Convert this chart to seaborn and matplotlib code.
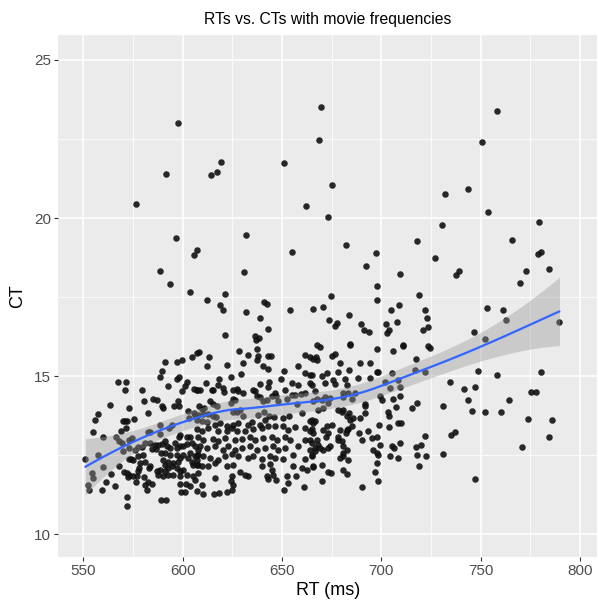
import numpy as np
import pandas as pd
import matplotlib
matplotlib.use("Agg")
import matplotlib.pyplot as plt
import seaborn as sns

# RT (ms) and CT values
rt = [
    669.4, 597.5, 668.8, 619.4, 617.4, 614.2, 591.8, 651.0, 675.0, 576.5,
    662.2, 673.3, 596.5, 632.0, 607.0, 605.9, 655.0, 588.7, 631.0, 593.8,
    603.5, 621.5, 674.5, 612.2, 618.9, 620.5, 640.8, 642.4, 631.7, 654.0,
    665.8, 670.5, 638.7, 673.8, 677.8, 676.7, 642.8, 621.5, 636.4, 638.4,
    758.1, 750.5, 732.1, 743.8, 753.6, 730.6, 779.1, 682.3, 717.8, 765.8,
    697.5, 727.1, 692.3, 709.6, 739.3, 737.3, 780.1, 778.6, 784.6, 773.0,
    769.8, 698.0, 698.0, 718.8, 709.1, 753.1, 761.1, 722.0, 704.9,
    683.8, 689.8, 691.0, 694.0, 702.1, 708.1, 703.7, 702.7, 722.9, 723.4,
    720.8, 684.3, 711.1,
    762.6, 746.5, 751.9, 724.5, 789.6, 722.0, 748.8, 758.1, 780.1, 734.6,
    741.8, 747.3, 743.8, 764.3, 775.4, 778.0, 731.2, 745.8, 752.0, 760.3,
    774.0, 786.1, 784.6, 734.8, 736.8, 771.0, 731.2, 722.7, 747.3, 722.0,
    # 550-610
    607.4, 604.8, 597.0, 599.5, 591.3, 589.6, 588.7, 598.0, 597.3, 592.4,
    602.0, 601.2, 599.5, 605.7, 607.4, 567.3, 571.5, 570.9, 579.5, 586.9,
    585.2, 580.7, 597.8, 595.5, 598.1, 589.6, 589.9, 602.5, 582.7, 603.2,
    605.9, 607.0, 563.2, 573.1, 557.5, 556.0, 575.5, 570.9, 570.1, 571.8,
    571.5, 569.0, 554.7, 588.4, 594.4, 593.1, 582.7, 583.5, 588.6, 598.6,
    598.3, 602.0, 603.7, 560.0, 566.3, 574.3, 573.1, 567.9, 569.3, 580.9,
    579.5, 576.0, 577.7, 573.1, 569.8, 583.5, 584.4, 586.6, 586.1, 587.7,
    589.4, 591.1, 591.9, 593.6, 596.1, 597.0, 598.6, 600.3, 602.0, 604.5,
    606.2, 607.9, 589.1, 591.1, 593.6, 597.0, 600.3, 603.7, 606.2, 607.9,
    602.8, 604.5, 607.0, 605.3, 607.9, 598.6, 597.8, 595.3, 592.8, 591.1,
    589.9, 551.0, 557.2, 559.7, 554.2, 554.7, 552.5, 553.0, 559.2, 561.4,
    563.9, 567.8, 572.8, 574.0, 575.2, 577.7, 579.8, 581.0, 583.5, 583.2,
    578.5, 578.2, 577.7, 570.5, 571.8, 573.1, 572.3, 575.2, 576.5, 576.8,
    580.7, 581.0, 582.4, 584.4, 581.9, 586.9, 588.6, 591.1, 592.8, 594.4,
    597.0, 598.6, 600.3, 587.7, 590.2, 592.8, 595.3, 598.6, 602.0, 605.3,
    607.9, 598.6, 601.5, 603.7, 606.2, 599.0, 601.2, 589.1, 591.4, 571.8,
    572.0, 565.9,
    # 606-666
    636.9, 608.2, 613.2, 612.4, 622.5, 628.5, 633.0, 637.2, 638.1, 637.2,
    643.1, 644.5, 630.2, 640.6, 642.8, 629.2, 624.3, 651.2, 661.6, 665.8,
    664.1, 657.9, 661.6, 664.1, 649.5, 611.7, 618.4, 617.6, 607.0, 608.7,
    614.6, 615.4, 620.5, 621.0, 625.2, 627.2, 628.0, 630.5, 626.3, 625.5,
    635.2, 636.4, 638.9, 643.4, 642.8, 646.5, 644.8, 647.0, 638.9, 637.2,
    640.6, 642.3, 651.5, 654.9, 658.2, 656.5, 654.9, 659.6, 661.6, 665.3,
    647.8, 652.3, 613.7, 615.4, 617.1, 624.3, 627.2, 625.5, 628.9, 608.2,
    609.6, 610.9, 606.2, 607.9, 610.4, 612.9, 615.4, 616.8, 630.5, 638.1,
    641.1, 643.4, 646.1, 650.7, 653.5, 657.4, 659.9, 664.1, 665.8, 609.6,
    612.1, 616.3, 618.8, 622.1, 625.5, 628.0, 633.0, 634.7, 638.9, 641.4,
    643.1, 646.5, 650.7, 652.8, 656.5, 661.6, 664.9, 607.0, 609.9, 612.9,
    617.9, 622.1, 624.7, 627.2, 631.4, 635.6, 639.8, 607.9, 610.4, 615.4,
    617.9, 621.3, 626.3, 629.7, 633.9, 636.4, 640.6, 644.8, 647.3, 651.5,
    654.0, 658.2, 661.6, 664.9, 664.1, 608.7, 612.1, 616.3, 620.5, 623.0,
    626.3, 629.7, 633.9, 637.2, 641.4, 645.6, 648.1, 651.5, 607.0, 610.4,
    613.7, 617.9, 621.3, 624.7, 628.0, 633.0, 635.6, 639.8, 643.9, 646.5,
    650.7, 655.7, 661.6, 664.9, 607.0, 609.6, 612.9, 616.3, 622.1, 625.5,
    628.9, 631.4, 633.0, 639.8, 643.9, 644.8, 645.6, 642.3, 655.7, 659.9,
    662.4, 665.8, 624.7, 624.3, 625.5, 624.7, 616.3, 609.6, 607.0, 610.4,
    615.8, 618.3, 622.1, 643.1, 646.8, 652.3, 657.0, 653.2, 651.2, 661.2,
    # 664-724
    667.5, 669.1, 684.2, 698.0, 706.0, 711.1, 667.1, 667.5, 675.0, 676.7,
    679.2, 689.3, 694.3, 717.5, 723.7, 683.9, 678.0, 697.7, 698.5, 664.9,
    670.0, 672.5, 675.8, 671.7, 676.7, 681.7, 682.6, 688.4, 694.3, 705.2,
    664.1, 666.6, 709.4, 708.6, 701.9, 717.0, 704.4, 709.4, 699.3, 700.2,
    706.0, 707.4, 703.2, 704.0, 715.3, 717.8, 691.8, 691.8, 685.1, 686.8,
    683.4, 680.9, 680.9, 674.2, 673.3, 670.0, 667.5, 671.7, 665.8, 678.4,
    680.9, 680.0, 670.8, 668.3, 691.8, 689.3, 683.9, 682.6, 684.2, 685.9,
    685.1, 683.4, 664.9, 666.6, 664.1, 665.8, 664.1, 670.8, 672.5, 675.0,
    673.3, 672.2, 679.2, 678.4, 682.2, 682.6, 688.9, 693.5, 690.1, 695.1,
    697.7, 699.3, 699.0, 704.0, 708.6, 709.7, 709.4, 719.8, 717.5, 705.2,
    706.4, 667.5, 668.3, 666.6, 669.1, 664.9, 666.6, 670.8, 673.3, 674.2,
    678.4, 680.0, 680.5, 682.6, 680.9, 679.2, 680.9, 683.4, 696.0, 697.7,
    698.5, 704.4, 708.6, 718.1, 719.1, 665.8, 670.0, 673.3, 674.5, 670.0,
    680.5, 682.6, 697.7, 696.8, 698.5, 690.1,
]
ct = [
    23.50, 22.99, 22.47, 21.77, 21.47, 21.35, 21.38, 21.74, 21.03, 20.45,
    20.39, 20.04, 19.36, 19.46, 18.99, 18.82, 18.94, 18.33, 18.28, 17.92,
    17.67, 17.60, 17.54, 17.40, 17.25, 17.09, 17.34, 17.28, 17.03, 17.09,
    17.12, 17.18, 16.84, 16.77, 16.68, 16.57, 16.48, 16.29, 16.26, 16.22,
    23.40, 22.40, 20.77, 20.93, 20.20, 19.78, 19.87, 19.14, 19.26, 19.30,
    18.91, 18.75, 18.47, 18.24, 18.34, 18.21, 18.94, 18.85, 18.40, 18.33,
    17.95, 17.86, 17.40, 17.57, 17.25, 17.16, 17.10, 17.10, 17.10,
    16.93, 16.64, 16.47, 16.38, 16.66, 16.71, 16.45, 16.35, 16.85, 16.55,
    16.45, 16.01, 15.99,
    16.77, 16.39, 16.17, 15.90, 16.70, 15.13, 15.17, 15.04, 15.13, 14.82,
    14.59, 14.65, 14.24, 14.24, 14.50, 14.50, 14.04, 13.91, 13.88, 13.88,
    13.63, 13.60, 13.06, 13.14, 13.24, 12.76, 12.53, 12.48, 11.74, 13.11,
    # 550-610
    15.73, 15.59, 15.44, 15.52, 15.44, 15.16, 14.98, 14.98, 14.91, 14.70,
    14.80, 14.70, 14.54, 14.59, 14.57, 14.81, 14.81, 14.56, 14.56, 14.25,
    14.27, 14.22, 14.20, 14.04, 14.06, 14.04, 13.98, 13.91, 13.83, 13.67,
    13.83, 13.62, 14.08, 13.99, 13.79, 13.62, 13.64, 13.57, 13.57, 13.59,
    13.36, 13.28, 13.24, 13.46, 13.46, 13.36, 13.22, 13.22, 13.17, 13.15,
    13.09, 13.09, 13.09, 13.07, 13.07, 13.04, 12.99, 12.94, 12.88, 12.88,
    12.75, 12.67, 12.76, 12.73, 12.64, 12.88, 12.69, 12.69, 12.82, 12.83,
    12.86, 12.94, 12.80, 12.72, 12.88, 12.72, 12.78, 12.80, 12.85, 12.88,
    12.80, 12.67, 12.57, 12.57, 12.51, 12.51, 12.51, 12.57, 12.46, 12.51,
    12.41, 12.30, 12.36, 12.20, 12.20, 12.41, 12.30, 12.25, 12.30, 12.20,
    12.36, 12.39, 12.50, 12.12, 11.93, 11.78, 11.55, 11.39, 11.39, 11.64,
    11.89, 12.16, 12.39, 12.39, 12.34, 12.48, 12.51, 12.27, 12.17, 12.09,
    12.25, 12.09, 11.99, 11.97, 11.93, 11.88, 11.81, 11.83, 11.64, 11.83,
    11.80, 11.57, 11.64, 11.60, 11.41, 11.99, 12.04, 11.99, 12.09, 12.15,
    12.09, 11.99, 12.04, 11.88, 11.83, 11.88, 11.88, 11.83, 11.88, 11.83,
    11.93, 11.60, 11.60, 11.51, 11.72, 11.32, 11.32, 11.09, 11.07, 11.18,
    10.88, 11.51,
    # 606-666
    16.15, 15.75, 15.59, 15.31, 15.36, 15.81, 15.68, 15.87, 15.65, 15.50,
    15.65, 15.64, 15.41, 15.33, 15.23, 15.07, 14.97, 15.17, 15.68, 15.55,
    15.60, 15.31, 15.10, 15.04, 14.91, 14.78, 14.91, 14.73, 14.57, 14.55,
    14.57, 14.55, 14.62, 14.49, 14.57, 14.59, 14.52, 14.46, 14.25, 14.28,
    14.57, 14.52, 14.75, 14.83, 14.67, 14.46, 14.38, 14.38, 14.34, 14.38,
    14.20, 14.23, 14.55, 14.78, 14.73, 14.41, 14.41, 14.44, 14.46, 14.73,
    14.20, 14.27, 14.20, 14.13, 14.04, 14.15, 13.88, 13.85, 13.92, 14.04,
    13.96, 13.99, 13.78, 13.78, 13.81, 13.81, 13.75, 13.71, 13.73, 13.78,
    13.85, 13.75, 13.71, 13.67, 13.73, 14.12, 13.83, 13.59, 13.52, 13.59,
    13.54, 13.46, 13.52, 13.43, 13.46, 13.52, 13.46, 13.54, 13.46, 13.62,
    13.43, 13.41, 13.43, 13.31, 13.39, 13.36, 13.33, 13.33, 13.25, 13.36,
    13.28, 13.28, 13.36, 13.25, 13.28, 13.33, 13.36, 13.09, 12.99, 13.01,
    12.94, 13.04, 12.99, 13.01, 13.07, 12.99, 13.04, 13.09, 12.99, 13.09,
    12.99, 12.78, 12.99, 12.88, 12.67, 12.78, 12.73, 12.78, 12.67, 12.78,
    12.67, 12.73, 12.78, 12.67, 12.73, 12.78, 12.67, 12.73, 12.51, 12.46,
    12.41, 12.36, 12.48, 12.55, 12.46, 12.41, 12.48, 12.38, 12.46, 12.41,
    12.38, 12.51, 12.38, 12.46, 12.20, 12.15, 12.17, 12.25, 12.17, 12.20,
    11.96, 11.88, 11.83, 12.17, 12.23, 12.04, 11.88, 11.83, 12.15, 12.09,
    12.04, 12.12, 11.83, 11.67, 11.57, 11.41, 11.78, 11.57, 11.36, 11.28,
    11.28, 11.30, 11.32, 11.75, 11.72, 11.85, 11.83, 11.62, 11.39, 11.49,
    # 664-724
    15.99, 15.92, 16.00, 15.87, 15.80, 15.94, 15.62, 15.52, 15.64, 15.71,
    15.43, 15.41, 15.41, 15.55, 15.94, 15.18, 15.13, 15.13, 15.13, 15.04,
    15.01, 15.10, 14.89, 14.78, 14.76, 14.91, 14.73, 14.94, 14.94, 15.10,
    14.78, 14.52, 14.67, 14.89, 14.80, 15.20, 14.62, 14.36, 14.36, 14.25,
    14.27, 14.02, 13.88, 13.73, 13.99, 14.15, 14.13, 14.04, 14.27, 14.48,
    14.46, 14.46, 14.34, 14.31, 14.15, 14.25, 14.27, 14.33, 14.20, 13.94,
    13.94, 13.88, 13.99, 13.94, 13.83, 13.67, 13.83, 13.73, 13.62, 13.67,
    13.41, 13.33, 13.62, 13.57, 13.25, 13.20, 12.99, 13.31, 13.41, 13.46,
    13.20, 13.09, 13.31, 13.09, 13.20, 13.31, 13.20, 13.25, 12.99, 13.04,
    13.09, 12.83, 13.46, 13.38, 13.52, 13.52, 12.88, 12.83, 12.76, 12.78,
    12.73, 12.99, 12.83, 12.73, 12.73, 12.51, 12.62, 12.67, 12.73, 12.78,
    12.99, 12.94, 12.78, 12.67, 12.57, 12.41, 12.46, 12.34, 12.67, 12.57,
    12.51, 12.48, 12.41, 12.51, 12.17, 12.15, 12.20, 11.96, 11.93, 11.67,
    12.02, 11.91, 12.25, 11.96, 11.67, 11.49,
]


def loess_fit(x, y, grid, span=0.75):
    # local quadratic regression with tricube weights (like R's loess)
    n = len(x)
    q = int(np.floor(n * span))

    def row(x0):
        d = np.abs(x - x0)
        h = np.sort(d)[q - 1]
        w = np.clip(1 - (d / h) ** 3, 0, None) ** 3
        X = np.column_stack([np.ones(n), x - x0, (x - x0) ** 2])
        XtW = X.T * w
        return np.linalg.solve(XtW @ X, XtW)[0]

    L_data = np.array([row(v) for v in x])
    resid = y - L_data @ y
    dof = n - np.trace(L_data)
    sigma = np.sqrt(np.sum(resid ** 2) / dof)
    L_grid = np.array([row(v) for v in grid])
    fit = L_grid @ y
    se = sigma * np.sqrt(np.sum(L_grid ** 2, axis=1))
    return fit, se


df = pd.DataFrame({"RT": rt, "CT": ct})
x = df["RT"].to_numpy()
y = df["CT"].to_numpy()
grid = np.linspace(x.min(), x.max(), 80)
fit, se = loess_fit(x, y, grid)

sns.set_theme(style="darkgrid")
plt.rcParams["font.family"] = ["Liberation Sans", "DejaVu Sans"]

fig = plt.figure(figsize=(5.98, 6.07), dpi=100)
ax = fig.add_axes([0.0975, 0.0829, 0.9008, 0.8595])
ax.set_facecolor("#EBEBEB")

sns.scatterplot(data=df, x="RT", y="CT", color="#111111", s=22,
                linewidth=0, alpha=0.9, ax=ax, zorder=3)
ax.fill_between(grid, fit - 1.96 * se, fit + 1.96 * se, color="#999999",
                alpha=0.4, linewidth=0, zorder=4)
ax.plot(grid, fit, color="#3366FF", linewidth=1.6, zorder=5)

ax.set_xlim(537.4, 808.5)
ax.set_ylim(9.29, 25.79)
ax.set_xticks([550, 600, 650, 700, 750, 800])
ax.set_xticks([575, 625, 675, 725, 775], minor=True)
ax.set_yticks([10, 15, 20, 25])
ax.set_yticks([12.5, 17.5, 22.5], minor=True)
ax.grid(which="major", color="white", linewidth=1.1)
ax.grid(which="minor", color="white", linewidth=0.55)
ax.set_axisbelow(True)
for s in ax.spines.values():
    s.set_visible(False)
ax.tick_params(which="major", length=3, width=0.8, color="#333333",
               labelsize=11, labelcolor="#4D4D4D", pad=2, bottom=True,
               left=True)
ax.tick_params(which="minor", length=0)

ax.set_xlabel("RT (ms)", fontsize=13, color="black", labelpad=3)
ax.set_ylabel("CT", fontsize=13, color="black", labelpad=6)
ax.set_title("RTs vs. CTs with movie frequencies", fontsize=11.3,
             color="black", pad=8)

fig.savefig("out.png", dpi=100)
